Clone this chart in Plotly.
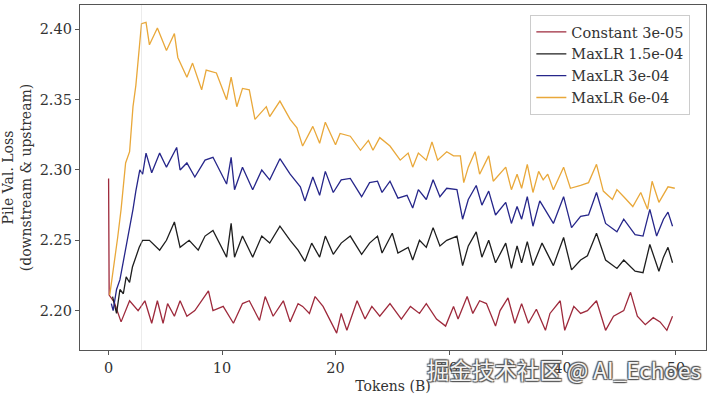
import plotly.graph_objects as go

# ---- data ----
tokens_const = [0.0, 0.05, 0.5, 1.1, 1.85, 2.6, 3.2, 3.8, 4.3, 4.8, 5.2, 5.8, 6.3, 6.9, 7.6, 8.8, 9.2,
                10.1, 11.0, 11.8, 12.4, 13.3, 13.8, 14.5, 15.4, 16.0, 16.7, 17.1, 17.7, 18.2, 18.9, 19.5,
                20.1, 20.5, 21.0, 21.9, 22.6, 23.2, 23.9, 24.8, 25.8, 26.6, 27.4, 28.0, 28.9, 29.7, 30.4,
                30.8, 31.6, 32.1, 32.7, 33.3, 34.1, 34.5, 35.2, 35.8, 36.4, 37.0, 37.7, 38.5, 38.9, 39.8,
                40.2, 41.0, 41.6, 42.2, 43.0, 43.8, 44.5, 45.4, 46.0, 46.6, 47.3, 48.0, 48.6, 49.2, 49.7]
loss_const = [2.294, 2.211, 2.206, 2.192, 2.207, 2.200, 2.207, 2.191, 2.207, 2.191, 2.205, 2.196, 2.207,
              2.196, 2.200, 2.214, 2.200, 2.203, 2.191, 2.205, 2.207, 2.193, 2.210, 2.196, 2.207, 2.192,
              2.205, 2.203, 2.198, 2.210, 2.203, 2.194, 2.184, 2.198, 2.186, 2.207, 2.194, 2.203, 2.196,
              2.205, 2.194, 2.203, 2.198, 2.205, 2.194, 2.189, 2.203, 2.194, 2.210, 2.198, 2.207, 2.205,
              2.189, 2.200, 2.209, 2.191, 2.205, 2.191, 2.201, 2.186, 2.198, 2.207, 2.186, 2.203, 2.198,
              2.200, 2.207, 2.186, 2.196, 2.200, 2.213, 2.196, 2.190, 2.195, 2.192, 2.186, 2.196]

tokens_15 = [0.35, 0.7, 1.0, 1.3, 1.55, 1.85, 2.1, 2.4, 2.7, 3.0, 3.6, 4.5, 5.1, 5.8, 6.3, 7.1, 7.9, 8.5,
             9.2, 10.4, 10.8, 11.1, 11.8, 12.7, 13.5, 14.2, 15.1, 16.0, 16.7, 17.3, 17.9, 18.6, 19.1, 19.8,
             20.5, 21.3, 22.3, 23.0, 23.7, 24.1, 25.0, 25.5, 26.4, 26.8, 27.4, 28.0, 28.6, 29.2, 29.8,
             30.7, 31.2, 31.7, 32.4, 32.9, 33.5, 34.1, 35.0, 35.5, 36.0, 36.4, 36.9, 37.4, 38.2, 38.7,
             39.2, 40.1, 40.8, 41.6, 42.2, 43.0, 43.8, 44.8, 45.4, 46.4, 47.1, 47.7, 48.5, 48.9, 49.3, 49.7]
loss_15 = [2.210, 2.198, 2.215, 2.212, 2.224, 2.220, 2.231, 2.238, 2.245, 2.250, 2.250, 2.243, 2.250,
           2.263, 2.245, 2.250, 2.243, 2.253, 2.257, 2.238, 2.262, 2.238, 2.253, 2.238, 2.253, 2.248,
           2.260, 2.250, 2.243, 2.235, 2.248, 2.238, 2.253, 2.240, 2.248, 2.253, 2.240, 2.248, 2.253,
           2.241, 2.255, 2.241, 2.245, 2.236, 2.250, 2.245, 2.259, 2.246, 2.250, 2.253, 2.232, 2.246,
           2.256, 2.238, 2.250, 2.234, 2.248, 2.230, 2.246, 2.234, 2.249, 2.232, 2.248, 2.240, 2.232,
           2.252, 2.229, 2.236, 2.239, 2.255, 2.236, 2.230, 2.236, 2.228, 2.227, 2.247, 2.228, 2.238,
           2.245, 2.234]

tokens_3 = [0.24, 0.4, 0.7, 1.0, 1.3, 1.6, 1.85, 2.15, 2.4, 2.75, 3.0, 3.3, 3.8, 4.5, 5.1, 6.0, 6.3, 6.9,
            7.6, 8.5, 9.2, 10.4, 10.8, 11.1, 11.8, 12.7, 13.5, 14.2, 15.1, 16.0, 16.9, 17.3, 18.0, 18.6,
            19.1, 19.8, 20.5, 21.3, 22.3, 23.0, 23.7, 24.1, 24.8, 25.5, 26.3, 26.8, 27.3, 28.0, 28.6,
            29.2, 29.8, 30.7, 31.2, 31.7, 32.4, 32.9, 33.5, 34.1, 35.0, 35.5, 36.0, 36.4, 36.9, 37.4,
            38.0, 38.6, 39.2, 40.1, 40.8, 41.6, 42.3, 43.0, 43.8, 44.8, 45.4, 46.4, 47.1, 47.7, 48.3,
            48.9, 49.3, 49.7]
loss_3 = [2.205, 2.200, 2.215, 2.222, 2.235, 2.248, 2.258, 2.272, 2.285, 2.300, 2.297, 2.312, 2.298,
          2.312, 2.302, 2.316, 2.300, 2.305, 2.295, 2.307, 2.309, 2.290, 2.309, 2.286, 2.302, 2.286,
          2.300, 2.293, 2.308, 2.297, 2.288, 2.278, 2.295, 2.282, 2.299, 2.284, 2.293, 2.294, 2.281,
          2.291, 2.292, 2.284, 2.292, 2.280, 2.282, 2.273, 2.286, 2.279, 2.293, 2.281, 2.287, 2.286,
          2.265, 2.279, 2.289, 2.275, 2.285, 2.268, 2.277, 2.262, 2.274, 2.265, 2.281, 2.260, 2.278,
          2.270, 2.262, 2.281, 2.259, 2.267, 2.268, 2.284, 2.262, 2.256, 2.265, 2.254, 2.253, 2.272,
          2.253, 2.265, 2.270, 2.260]

tokens_6 = [0.1, 0.5, 0.8, 1.1, 1.5, 1.85, 2.15, 2.4, 2.7, 2.9, 3.3, 3.6, 4.3, 5.1, 5.8, 6.1, 6.9, 7.4,
            8.2, 8.6, 9.5, 10.4, 10.8, 11.3, 11.8, 12.4, 12.9, 13.9, 14.2, 15.1, 16.0, 16.6, 17.1, 18.0,
            18.6, 19.1, 20.0, 20.4, 21.3, 22.2, 22.9, 23.3, 23.9, 24.8, 25.7, 26.4, 26.8, 27.3, 28.0,
            28.5, 29.0, 29.8, 30.4, 31.0, 31.3, 31.7, 32.3, 32.7, 33.5, 33.9, 35.0, 35.5, 36.0, 36.4,
            36.9, 37.4, 37.9, 38.3, 38.7, 39.2, 40.1, 40.7, 41.6, 42.3, 43.0, 43.6, 44.4, 44.8, 45.4,
            46.2, 46.9, 47.5, 47.9, 48.5, 49.3, 49.9]
loss_6 = [2.211, 2.233, 2.252, 2.272, 2.305, 2.313, 2.345, 2.360, 2.390, 2.404, 2.405, 2.389, 2.401,
          2.385, 2.397, 2.380, 2.366, 2.376, 2.357, 2.371, 2.369, 2.350, 2.366, 2.345, 2.358, 2.357,
          2.336, 2.345, 2.338, 2.349, 2.336, 2.330, 2.317, 2.331, 2.319, 2.334, 2.318, 2.326, 2.324,
          2.314, 2.321, 2.314, 2.323, 2.317, 2.307, 2.312, 2.302, 2.312, 2.307, 2.320, 2.307, 2.313,
          2.310, 2.310, 2.291, 2.302, 2.313, 2.297, 2.310, 2.292, 2.302, 2.286, 2.297, 2.287, 2.304,
          2.284, 2.299, 2.293, 2.297, 2.286, 2.302, 2.287, 2.289, 2.291, 2.304, 2.285, 2.279, 2.286,
          2.281, 2.274, 2.284, 2.272, 2.292, 2.277, 2.288, 2.287]

series_names = ["Constant 3e-05", "MaxLR 1.5e-04", "MaxLR 3e-04", "MaxLR 6e-04"]
series_x = [tokens_const, tokens_15, tokens_3, tokens_6]
series_y = [loss_const, loss_15, loss_3, loss_6]
series_colors = ["#9e2a3c", "#1e1e1e", "#26268a", "#e9a83a"]

x_ticks = [0, 10, 20, 30, 40, 50]
y_ticks = [2.20, 2.25, 2.30, 2.35, 2.40]
warmup_end = 2.9

FONT = "DejaVu Serif"

fig = go.Figure()
for name, xs, ys, col in zip(series_names, series_x, series_y, series_colors):
    fig.add_trace(go.Scatter(x=xs, y=ys, mode="lines", name=name, legendgroup=name,
                             line=dict(color=col, width=1.3)))

fig.add_vline(x=warmup_end, line=dict(color="rgba(200,200,200,0.35)", width=1))

axis_common = dict(showline=True, linecolor="#555", linewidth=1.3, mirror=True,
                   showgrid=False, zeroline=False, ticks="outside", ticklen=4,
                   tickwidth=1, tickcolor="#555", automargin=False,
                   tickfont=dict(family=FONT, size=14.5, color="#333"))

fig.update_xaxes(range=[-2.52, 52.65], tickvals=x_ticks,
                 title=dict(text="Tokens (B)", font=dict(family=FONT, size=14, color="#333"),
                            standoff=6),
                 **axis_common)
fig.update_yaxes(range=[2.172, 2.4173], tickvals=y_ticks, tickformat=".2f",
                 title=dict(text="Pile Val. Loss<br>(downstream & upstream)",
                            font=dict(family=FONT, size=14, color="#333"), standoff=6),
                 **axis_common)

fig.add_annotation(text="掘金技术社区 @ AI_Echoes", xref="paper", yref="paper",
                   x=0.996, y=-0.055, xanchor="right", yanchor="middle", showarrow=False,
                   font=dict(family="Noto Sans CJK SC", size=22.5, color="#f4f4f4",
                             shadow="1px 1px 1px #555, -1px -1px 1px #555, 1px -1px 1px #555, -1px 1px 1px #555"))

fig.update_layout(
    width=720, height=396,
    margin=dict(l=80, r=14, t=5, b=46),
    plot_bgcolor="white", paper_bgcolor="white",
    font=dict(family=FONT, size=14, color="#333"),
    legend=dict(x=0.975, y=0.971, xanchor="right", yanchor="top",
                bgcolor="white", bordercolor="#cccccc", borderwidth=1,
                font=dict(family=FONT, size=14.5, color="#333"),
                tracegroupgap=0, itemwidth=30),
    showlegend=True,
)

fig.write_html("out.html", config={"displayModeBar": False},
               post_script="document.body.style.margin='0';")
